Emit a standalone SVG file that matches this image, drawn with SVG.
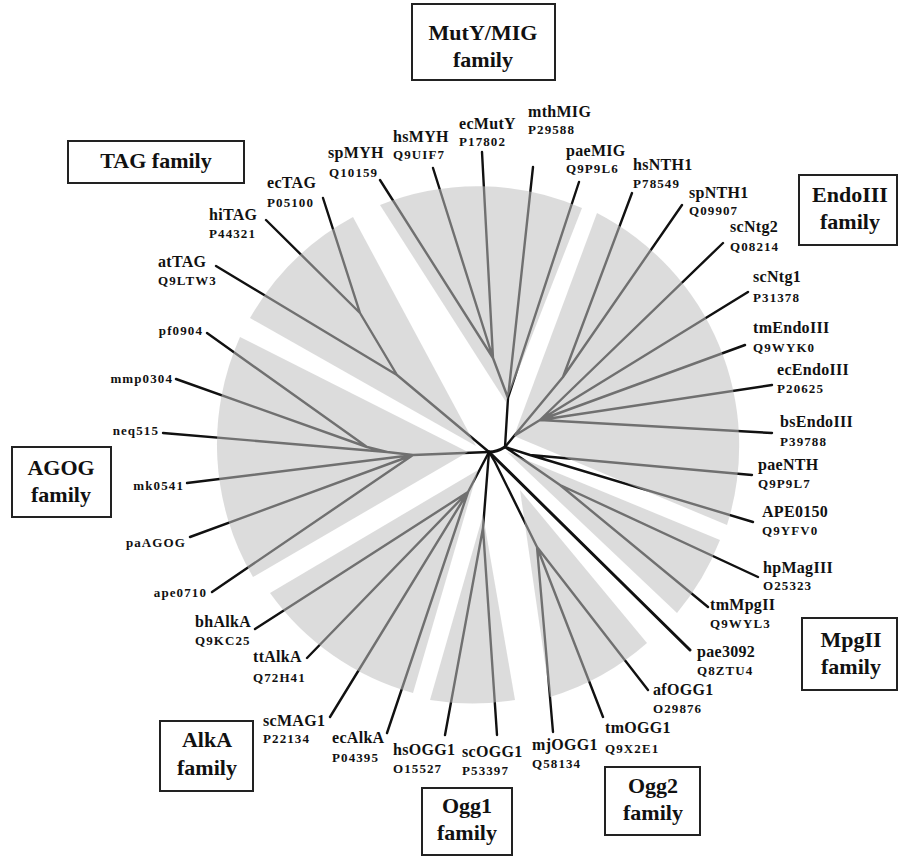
<svg xmlns="http://www.w3.org/2000/svg" width="898" height="856" viewBox="0 0 898 856">
<style>
.br{fill:none;stroke:#111;stroke-width:2.4;stroke-linecap:round;stroke-linejoin:round}
.thick{stroke-width:3}
.sec{fill:#c0c0c0;fill-opacity:0.55;stroke:none}
.nm{font-family:"Liberation Serif","Times New Roman",serif;font-weight:bold;font-size:16px;letter-spacing:0.3px;fill:#111}
.ac{font-family:"Liberation Serif","Times New Roman",serif;font-weight:bold;font-size:13px;letter-spacing:1.1px;fill:#111}
.fam{font-family:"Liberation Serif","Times New Roman",serif;font-weight:bold;font-size:22px;fill:#111;text-anchor:middle}
.box{fill:#fff;stroke:#222;stroke-width:2}
</style>
<rect width="898" height="856" fill="#fff"/>
<g id="connectors">
<path class="br thick" d="M489,452 Q497,452 505,447"/>
<path class="br" d="M505,447 L508,398 M508,398 L533,167 M508,398 L579,182 M508,398 L493,358 M493,358 L380,180 M493,358 L433,168 M493,358 L482,152"/>
<path class="br" d="M505,447 L514,436 M514,436 L563,377 M563,377 L632,193 M563,377 L682,205 M514,436 L540,420 M540,420 L723,243 M540,420 L748,292 M540,420 L745,345 M540,420 L772,385 M540,420 L772,433"/>
<path class="br" d="M505,447 L530,455 M530,455 L752,475 M530,455 L753,522 M505,447 L560,485 M560,485 L758,577 M560,485 L708,607"/>
<path class="br thick" d="M489,452 L690,650"/>
<path class="br" d="M489,452 L495,462 M495,462 L537,547 M537,547 L648,690 M537,547 L603,717 M537,547 L553,732"/>
<path class="br" d="M489,452 L483,528 M483,528 L445,735 M483,528 L497,735"/>
<path class="br" d="M489,452 L468,492 M468,492 L255,629 M468,492 L307,658 M468,492 L330,717 M468,492 L387,733"/>
<path class="br" d="M489,452 L413,455 M413,455 L387,452 M387,452 L367,447 M367,447 L207,333 M367,447 L176,379 M387,452 L163,433 M413,455 L187,483 M413,455 L190,537 M413,455 L212,592"/>
<path class="br" d="M489,452 L397,375 M397,375 L360,313 M360,313 L323,198 M360,313 L266,220 M397,375 L216,266"/>
</g>
<g id="sectors">
<path class="sec" d="M476,446 L250,318 A262,262 0 0 1 353,217 Z"/>
<path class="sec" d="M506,402 L380,205 A262,262 0 0 1 582,208 Z"/>
<path class="sec" d="M514,436 L597,213 A262,262 0 0 1 727,525 Z"/>
<path class="sec" d="M507,452 L720,540 A262,262 0 0 1 677,613 Z"/>
<path class="sec" d="M520,490 L647,643 A262,262 0 0 1 550,697 Z"/>
<path class="sec" d="M483,515 L515,700 A262,262 0 0 1 430,700 Z"/>
<path class="sec" d="M478,470 L413,693 A262,262 0 0 1 270,593 Z"/>
<path class="sec" d="M468,452 L253,577 A262,262 0 0 1 240,337 Z"/>
</g>
<g id="leaves">
<g id="n-spMYH"><text class="nm" x="328" y="158">spMYH</text><text class="ac" x="329" y="177">Q10159</text></g>
<g id="n-hsMYH"><text class="nm" x="393" y="142">hsMYH</text><text class="ac" x="393" y="159">Q9UIF7</text></g>
<g id="n-ecMutY"><text class="nm" x="459" y="129">ecMutY</text><text class="ac" x="459" y="146">P17802</text></g>
<g id="n-mthMIG"><text class="nm" x="528" y="117">mthMIG</text><text class="ac" x="528" y="134">P29588</text></g>
<g id="n-paeMIG"><text class="nm" x="566" y="156">paeMIG</text><text class="ac" x="566" y="173">Q9P9L6</text></g>
<g id="n-hsNTH1"><text class="nm" x="633" y="170">hsNTH1</text><text class="ac" x="633" y="188">P78549</text></g>
<g id="n-spNTH1"><text class="nm" x="689" y="198">spNTH1</text><text class="ac" x="689" y="215">Q09907</text></g>
<g id="n-scNtg2"><text class="nm" x="730" y="232">scNtg2</text><text class="ac" x="730" y="251">Q08214</text></g>
<g id="n-scNtg1"><text class="nm" x="753" y="282">scNtg1</text><text class="ac" x="753" y="302">P31378</text></g>
<g id="n-tmEndoIII"><text class="nm" x="753" y="333">tmEndoIII</text><text class="ac" x="753" y="352">Q9WYK0</text></g>
<g id="n-ecEndoIII"><text class="nm" x="777" y="375">ecEndoIII</text><text class="ac" x="777" y="393">P20625</text></g>
<g id="n-bsEndoIII"><text class="nm" x="780" y="427">bsEndoIII</text><text class="ac" x="780" y="446">P39788</text></g>
<g id="n-paeNTH"><text class="nm" x="758" y="470">paeNTH</text><text class="ac" x="758" y="488">Q9P9L7</text></g>
<g id="n-APE0150"><text class="nm" x="762" y="517">APE0150</text><text class="ac" x="762" y="535">Q9YFV0</text></g>
<g id="n-hpMagIII"><text class="nm" x="763" y="573">hpMagIII</text><text class="ac" x="763" y="590">O25323</text></g>
<g id="n-tmMpgII"><text class="nm" x="710" y="610">tmMpgII</text><text class="ac" x="710" y="628">Q9WYL3</text></g>
<g id="n-pae3092"><text class="nm" x="697" y="657">pae3092</text><text class="ac" x="697" y="675">Q8ZTU4</text></g>
<g id="n-afOGG1"><text class="nm" x="653" y="695">afOGG1</text><text class="ac" x="653" y="713">O29876</text></g>
<g id="n-tmOGG1"><text class="nm" x="605" y="733">tmOGG1</text><text class="ac" x="605" y="753">Q9X2E1</text></g>
<g id="n-mjOGG1"><text class="nm" x="532" y="750">mjOGG1</text><text class="ac" x="532" y="768">Q58134</text></g>
<g id="n-scOGG1"><text class="nm" x="462" y="757">scOGG1</text><text class="ac" x="462" y="775">P53397</text></g>
<g id="n-hsOGG1"><text class="nm" x="393" y="755">hsOGG1</text><text class="ac" x="393" y="773">O15527</text></g>
<g id="n-ecAlkA"><text class="nm" x="332" y="743">ecAlkA</text><text class="ac" x="332" y="762">P04395</text></g>
<g id="n-scMAG1"><text class="nm" x="263" y="726">scMAG1</text><text class="ac" x="263" y="743">P22134</text></g>
<g id="n-ttAlkA"><text class="nm" x="253" y="662">ttAlkA</text><text class="ac" x="253" y="682">Q72H41</text></g>
<g id="n-bhAlkA"><text class="nm" x="195" y="627">bhAlkA</text><text class="ac" x="195" y="645">Q9KC25</text></g>
<g id="n-ape0710"><text class="ac" x="207" y="597" text-anchor="end">ape0710</text></g>
<g id="n-paAGOG"><text class="ac" x="186" y="547" text-anchor="end">paAGOG</text></g>
<g id="n-mk0541"><text class="ac" x="184" y="490" text-anchor="end">mk0541</text></g>
<g id="n-neq515"><text class="ac" x="159" y="435" text-anchor="end">neq515</text></g>
<g id="n-mmp0304"><text class="ac" x="173" y="383" text-anchor="end">mmp0304</text></g>
<g id="n-pf0904"><text class="ac" x="203" y="335" text-anchor="end">pf0904</text></g>
<g id="n-atTAG"><text class="nm" x="158" y="267">atTAG</text><text class="ac" x="158" y="285">Q9LTW3</text></g>
<g id="n-hiTAG"><text class="nm" x="209" y="220">hiTAG</text><text class="ac" x="209" y="238">P44321</text></g>
<g id="n-ecTAG"><text class="nm" x="267" y="188">ecTAG</text><text class="ac" x="267" y="207">P05100</text></g>
</g>
<g id="families">
<g id="f-muty"><rect class="box" x="412" y="4" width="143" height="76"/><text class="fam" x="483" y="40">MutY/MIG</text><text class="fam" x="483" y="67">family</text></g>
<g id="f-tag"><rect class="box" x="68" y="141" width="176" height="42"/><text class="fam" x="156" y="168">TAG family</text></g>
<g id="f-endo"><rect class="box" x="799" y="175" width="98" height="70"/><text class="fam" x="850" y="202">EndoIII</text><text class="fam" x="850" y="229">family</text></g>
<g id="f-mpg"><rect class="box" x="802" y="618" width="95" height="72"/><text class="fam" x="851" y="647">MpgII</text><text class="fam" x="851" y="674">family</text></g>
<g id="f-ogg2"><rect class="box" x="605" y="767" width="95" height="68"/><text class="fam" x="653" y="793">Ogg2</text><text class="fam" x="653" y="820">family</text></g>
<g id="f-ogg1"><rect class="box" x="422" y="788" width="90" height="67"/><text class="fam" x="467" y="813">Ogg1</text><text class="fam" x="467" y="840">family</text></g>
<g id="f-alka"><rect class="box" x="160" y="721" width="93" height="70"/><text class="fam" x="207" y="747">AlkA</text><text class="fam" x="207" y="775">family</text></g>
<g id="f-agog"><rect class="box" x="12" y="447" width="99" height="70"/><text class="fam" x="61" y="475">AGOG</text><text class="fam" x="61" y="502">family</text></g>
</g>
</svg>
